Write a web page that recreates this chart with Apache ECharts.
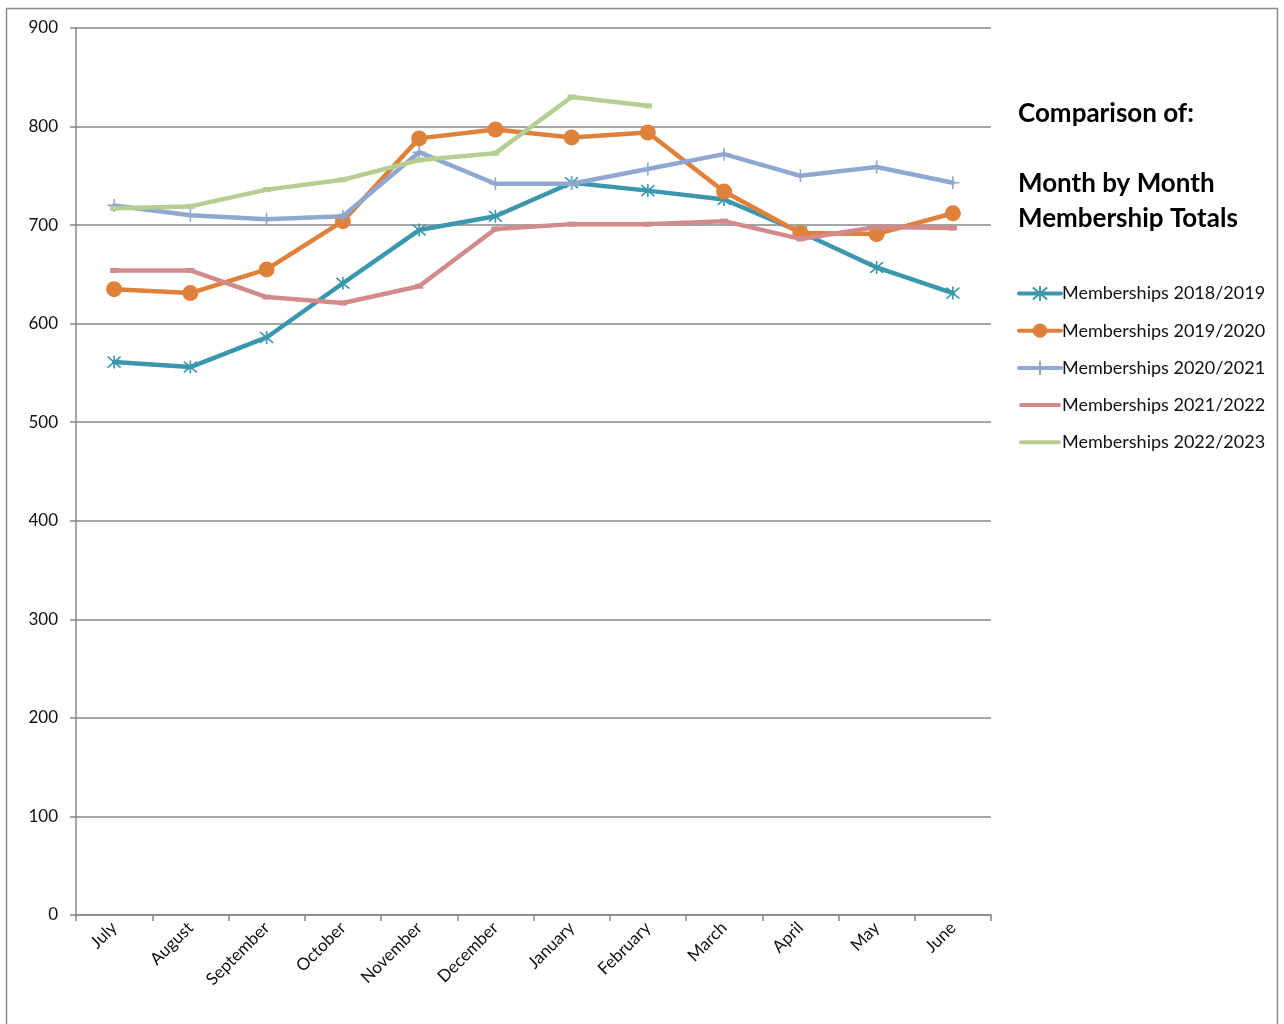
<!DOCTYPE html>
<html>
<head>
<meta charset="utf-8">
<title>Month by Month Membership Totals</title>
<script src="https://cdn.jsdelivr.net/npm/echarts@6/dist/echarts.min.js"></script>
<style>
  html, body { margin: 0; padding: 0; background: #fff; }
  #chart { width: 1284px; height: 1024px; }
</style>
</head>
<body>
<div id="chart"></div>
<script>
// Months of the membership year (July to June)
const months = ['July', 'August', 'September', 'October', 'November', 'December',
                'January', 'February', 'March', 'April', 'May', 'June'];

// Membership totals per season
const members2018 = [561, 556, 586, 641, 695, 709, 743, 735, 726, 693, 657, 631];
const members2019 = [635, 631, 655, 704, 788, 797, 789, 794, 734, 692, 691, 712];
const members2020 = [720, 710, 706, 709, 774, 742, 742, 757, 772, 750, 759, 743];
const members2021 = [654, 654, 627, 621, 638, 696, 701, 701, 704, 686, 698, 697];
const members2022 = [717, 719, 736, 746, 766, 773, 830, 821, null, null, null, null];

const seriesNames = ['Memberships 2018/2019', 'Memberships 2019/2020', 'Memberships 2020/2021',
                     'Memberships 2021/2022', 'Memberships 2022/2023'];

const yTicks = { min: 0, max: 900, step: 100 };

const FONT = 'Lato, "Open Sans", sans-serif';
const GRID_GREY = '#878787';

const colors = ['#3A97AE', '#DF813A', '#8FA8D2', '#D38A8B', '#B5CE91'];

// asterisk and plus markers drawn as stroked paths
const asterisk = 'path://M0,0L10,10M10,0L0,10M5,-1L5,11';
const plus = 'path://M5,0L5,10M0,5L10,5';
// rounded bar used as legend icon for the series without visible markers
const barIcon = 'path://M2,0L40,0A2,2,0,0,1,40,4L2,4A2,2,0,0,1,2,0Z';

function lineSeries(idx, data, symbol, symbolSize, stroke) {
  return {
    name: seriesNames[idx],
    type: 'line',
    data: data,
    symbol: symbol,
    symbolSize: symbolSize,
    showAllSymbol: true,
    connectNulls: false,
    lineStyle: { color: colors[idx], width: 4.5, cap: 'round', join: 'round' },
    itemStyle: stroke
      ? { color: 'rgba(0,0,0,0)', borderColor: colors[idx], borderWidth: stroke }
      : { color: colors[idx], borderWidth: 0 },
    emphasis: { disabled: true },
    z: 2 + idx
  };
}

const chart = echarts.init(document.getElementById('chart'), null, { renderer: 'canvas' });

chart.setOption({
  animation: false,
  backgroundColor: '#fff',
  color: colors,
  textStyle: { fontFamily: FONT },
  title: {
    text: 'Comparison of:\n\nMonth by Month\nMembership Totals',
    left: 1018,
    top: 96,
    padding: 0,
    textStyle: { fontFamily: FONT, fontWeight: 'bold', fontSize: 26, color: '#000', lineHeight: 35 }
  },
  legend: {
    orient: 'vertical',
    left: 1017,
    top: 284.5,
    padding: 0,
    itemGap: 19.2,
    itemWidth: 42,
    itemHeight: 18,
    lineStyle: { width: 4, cap: 'round' },
    textStyle: { fontFamily: FONT, fontSize: 18, color: '#111', padding: [0, 0, 0, -4] },
    data: [
      seriesNames[0],
      seriesNames[1],
      seriesNames[2],
      { name: seriesNames[3], icon: barIcon },
      { name: seriesNames[4], icon: barIcon }
    ]
  },
  grid: { left: 76, right: 293, top: 28, bottom: 109, containLabel: false },
  xAxis: {
    type: 'category',
    data: months,
    boundaryGap: true,
    axisLine: { lineStyle: { color: GRID_GREY, width: 1.5 } },
    axisTick: { show: true, length: 6, lineStyle: { color: GRID_GREY, width: 1.5 } },
    axisLabel: { rotate: 45, fontFamily: FONT, fontSize: 17, color: '#111', margin: 10, interval: 0 },
    splitLine: { show: false }
  },
  yAxis: {
    type: 'value',
    min: yTicks.min,
    max: yTicks.max,
    interval: yTicks.step,
    axisLine: { show: true, lineStyle: { color: GRID_GREY, width: 1.5 } },
    axisTick: { show: true, length: 6, lineStyle: { color: GRID_GREY, width: 1.5 } },
    axisLabel: { fontFamily: FONT, fontSize: 17, color: '#111', margin: 18 },
    splitLine: { show: true, lineStyle: { color: GRID_GREY, width: 1.5 } }
  },
  graphic: [{
    type: 'rect',
    shape: { x: 6.5, y: 8.5, width: 1271, height: 1040 },
    style: { fill: 'none', stroke: '#8a8a8a', lineWidth: 1.5 },
    silent: true,
    z: -10
  }],
  series: [
    lineSeries(0, members2018, asterisk, 13, 1.6),
    lineSeries(1, members2019, 'circle', 16, 0),
    lineSeries(2, members2020, plus, 13, 1.6),
    lineSeries(3, members2021, 'rect', [8, 5], 0),
    lineSeries(4, members2022, 'rect', [8, 5], 0)
  ]
});
</script>
</body>
</html>
